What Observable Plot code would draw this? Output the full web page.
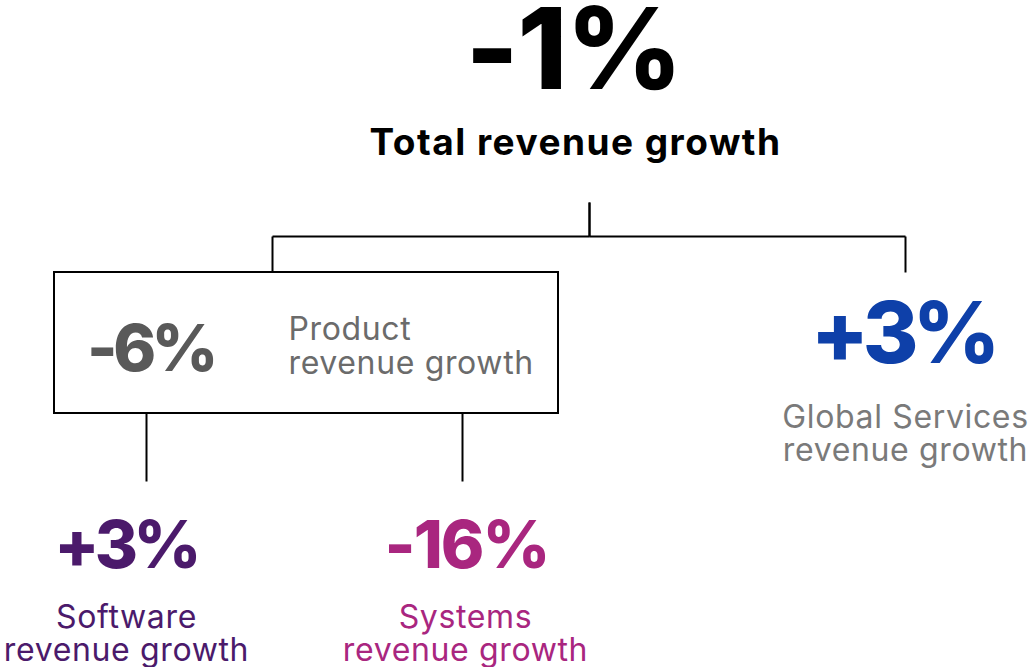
<!DOCTYPE html>
<html>
<head>
<meta charset="utf-8">
<script src="https://cdn.jsdelivr.net/npm/d3@7"></script>
<script src="https://cdn.jsdelivr.net/npm/@observablehq/plot@0.6"></script>
<style>
  html, body { margin: 0; padding: 0; background: #fff; }
  svg { display: block; }
</style>
</head>
<body>
<div id="chart"></div>
<script>
// ---- data ----
const nodeIds = ["total", "product", "software", "systems", "services"];
const parentIds = [null, "total", "product", "product", "total"];
const growthValues = [-1, -6, 3, -16, 3];
const labelLines = [
  ["Total revenue growth"],
  ["Product", "revenue growth"],
  ["Software", "revenue growth"],
  ["Systems", "revenue growth"],
  ["Global Services", "revenue growth"]
];

// ---- layout & style (kept apart from the data) ----
const layout = {
  total:    {x: 573, vy: 88,  vSize: 113, vSp: -0.01, vColor: "#000000", lx: 575, ly: [154], lSize: 37, lWeight: 700, lSp: 0.04, lColor: "#000000", lAnchor: "middle", anchorX: 589, top: null, bottom: 202},
  product:  {x: 150, vy: 370, vSize: 65,  vSp: -0.07, vColor: "#595959", lx: 288, ly: [339, 373], lSize: 32, lWeight: 400, lSp: 0.02, lColor: "#6b6b6b", lAnchor: "start", anchorX: 272, top: 272, bottom: 413, box: [54, 558, 272, 413]},
  software: {x: 125, vy: 567, vSize: 66,  vSp: -0.07, vColor: "#4b1a6b", lx: 126, ly: [627, 660], lSize: 32, lWeight: 400, lSp: 0.02, lColor: "#4b1a6b", lAnchor: "middle", anchorX: 146, top: 481},
  systems:  {x: 466, vy: 567, vSize: 66,  vSp: -0.03, vColor: "#a9267f", lx: 465, ly: [627, 660], lSize: 32, lWeight: 400, lSp: 0.02, lColor: "#a9267f", lAnchor: "middle", anchorX: 462, top: 481},
  services: {x: 902, vy: 362, vSize: 85,  vSp: -0.07, vColor: "#0e40a9", lx: 905, ly: [427, 460], lSize: 32, lWeight: 400, lSp: 0.02, lColor: "#7a7a7a", lAnchor: "middle", anchorX: 905, top: 272}
};
const elbowY = {total: 236};

const fmt = v => (v > 0 ? "+" : "") + v + "%";

const nodes = nodeIds.map((id, i) => ({id, parent: parentIds[i], value: growthValues[i], lines: labelLines[i], ...layout[id]}));
const byId = Object.fromEntries(nodes.map(n => [n.id, n]));

// connector segments derived from the tree structure
const segments = [];
for (const n of nodes) {
  if (!n.parent) continue;
  const p = byId[n.parent];
  if (elbowY[p.id] != null) {
    const my = elbowY[p.id];
    segments.push({x1: p.anchorX, y1: p.bottom, x2: p.anchorX, y2: my});
    segments.push({x1: p.anchorX, y1: my, x2: n.anchorX, y2: my});
    segments.push({x1: n.anchorX, y1: my, x2: n.anchorX, y2: n.top});
  } else {
    segments.push({x1: n.anchorX, y1: p.bottom, x2: n.anchorX, y2: n.top});
  }
}

const boxes = nodes.filter(n => n.box).map(n => ({x1: n.box[0], x2: n.box[1], y1: n.box[2], y2: n.box[3]}));

const labelRows = nodes.flatMap(n => n.lines.map((t, i) => ({id: n.id, line: i, text: t, x: n.lx, y: n.ly[i], size: n.lSize, weight: n.lWeight, sp: n.lSp, color: n.lColor, anchor: n.lAnchor})));

const fontFamily = "Inter, 'Liberation Sans', sans-serif";
const spacing = {};

const valueMarks = nodes.map(n => {
  const key = "value-" + n.id;
  spacing[key] = n.vSp;
  return Plot.text([n], {
    x: "x", y: "vy", text: d => fmt(d.value),
    fill: n.vColor, fontSize: n.vSize, fontWeight: 800, fontFamily,
    textAnchor: "middle", lineAnchor: "bottom", ariaDescription: key
  });
});

const labelMarks = labelRows.map(r => {
  const key = "label-" + r.id + "-" + r.line;
  spacing[key] = r.sp;
  return Plot.text([r], {
    x: "x", y: "y", text: "text",
    fill: r.color, fontSize: r.size, fontWeight: r.weight, fontFamily,
    textAnchor: r.anchor, lineAnchor: "bottom", ariaDescription: key
  });
});

const chart = Plot.plot({
  width: 1032,
  height: 667,
  margin: 0,
  x: {domain: [0, 1032], range: [0, 1032], axis: null},
  y: {domain: [0, 667], range: [0, 667], axis: null},
  style: {background: "#fff", overflow: "visible"},
  marks: [
    Plot.link(segments, {x1: "x1", y1: "y1", x2: "x2", y2: "y2", stroke: "#000", strokeWidth: 2}),
    Plot.rect(boxes, {x1: "x1", x2: "x2", y1: "y1", y2: "y2", fill: "#fff", stroke: "#000", strokeWidth: 2}),
    ...valueMarks,
    ...labelMarks
  ]
});
d3.select(chart).selectAll("g[aria-description]").each(function () {
  const key = this.getAttribute("aria-description");
  if (spacing[key] != null) this.style.letterSpacing = spacing[key] + "em";
});
document.getElementById("chart").append(chart);
</script>
</body>
</html>
